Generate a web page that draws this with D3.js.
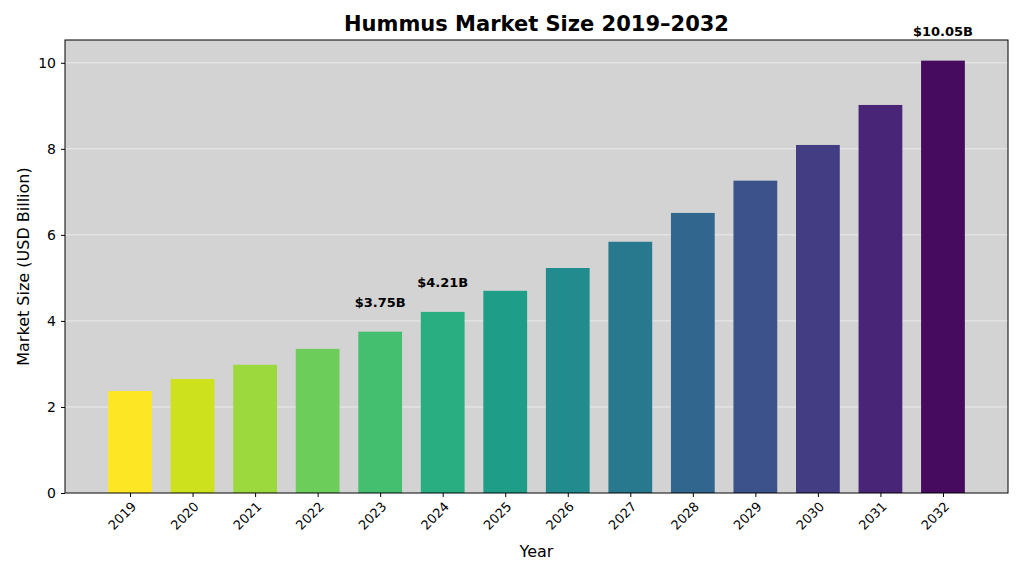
<!DOCTYPE html>
<html><head><meta charset="utf-8">
<script src="https://cdn.jsdelivr.net/npm/d3@7"></script>
<style>body{margin:0;background:#fff;font-family:"DejaVu Sans",sans-serif;}</style>
</head><body>
<script>
const years = ['2019','2020','2021','2022','2023','2024','2025','2026','2027','2028','2029','2030','2031','2032'];
const sizes = [2.37,2.65,2.98,3.35,3.75,4.21,4.70,5.23,5.84,6.51,7.26,8.09,9.02,10.05];
const labelled = ['2023','2024','2032'];
const yTicks = [0,2,4,6,8,10];

const W = 1024, H = 576;
const m = {left:65, right:1008, top:40, bottom:493};

const svg = d3.select('body').append('svg').attr('width', W).attr('height', H);

const x = d3.scaleLinear().domain([-1.04, years.length - 1 + 1.04]).range([m.left, m.right]);
const y = d3.scaleLinear().domain([0, 10.53]).range([m.bottom, m.top]);
const step = x(1) - x(0);
const bw = step * 0.7;

svg.append('rect').attr('x', m.left).attr('y', m.top)
  .attr('width', m.right - m.left).attr('height', m.bottom - m.top).style('fill', '#d3d3d3');

svg.append('g').selectAll('line').data(yTicks).join('line')
  .attr('x1', m.left).attr('x2', m.right)
  .attr('y1', d => y(d)).attr('y2', d => y(d))
  .style('stroke', '#fff').style('stroke-width', 0.8).style('opacity', 0.7);

svg.append('g').selectAll('rect').data(sizes).join('rect')
  .attr('x', (d, i) => x(i) - bw / 2)
  .attr('y', d => y(d))
  .attr('width', bw)
  .attr('height', d => m.bottom - y(d))
  .style('fill', (d, i) => d3.interpolateViridis(1 - i / 13 * 0.97));

svg.append('g').selectAll('text').data(years.map((yr, i) => [yr, i]).filter(d => labelled.includes(d[0]))).join('text')
  .attr('x', d => x(d[1]))
  .attr('y', d => y(sizes[d[1]]) - 25)
  .attr('text-anchor', 'middle')
  .style('font-size', '13px').style('font-weight', 'bold')
  .text(d => '$' + sizes[d[1]].toFixed(2) + 'B');

svg.append('rect').attr('x', m.left).attr('y', m.top)
  .attr('width', m.right - m.left).attr('height', m.bottom - m.top)
  .style('fill', 'none').style('stroke', '#000').style('stroke-width', 1);

const yAxis = svg.append('g').attr('transform', `translate(${m.left},0)`)
  .call(d3.axisLeft(y).tickValues(yTicks).tickSize(4).tickPadding(5));
yAxis.select('.domain').remove();
yAxis.selectAll('text').style('font-size', '14px').style('font-family', 'DejaVu Sans');

const xAxis = svg.append('g').attr('transform', `translate(0,${m.bottom})`)
  .call(d3.axisBottom(x).tickValues(d3.range(years.length)).tickFormat(i => years[i]).tickSize(4));
xAxis.select('.domain').remove();
xAxis.selectAll('text')
  .style('font-size', '13px').style('font-family', 'DejaVu Sans')
  .attr('text-anchor', 'end')
  .attr('transform', 'translate(2,4) rotate(-45)')
  .attr('dy', '0.35em').attr('y', 6).attr('x', -4);

svg.append('text').attr('x', (m.left + m.right) / 2).attr('y', 31)
  .attr('text-anchor', 'middle').style('font-size', '21px').style('font-weight', 'bold')
  .text('Hummus Market Size 2019–2032');
svg.append('text').attr('x', (m.left + m.right) / 2).attr('y', 557)
  .attr('text-anchor', 'middle').style('font-size', '16px').text('Year');
svg.append('text').attr('transform', `translate(29,${(m.top + m.bottom) / 2}) rotate(-90)`)
  .attr('text-anchor', 'middle').style('font-size', '16px').text('Market Size (USD Billion)');
</script>
</body></html>
